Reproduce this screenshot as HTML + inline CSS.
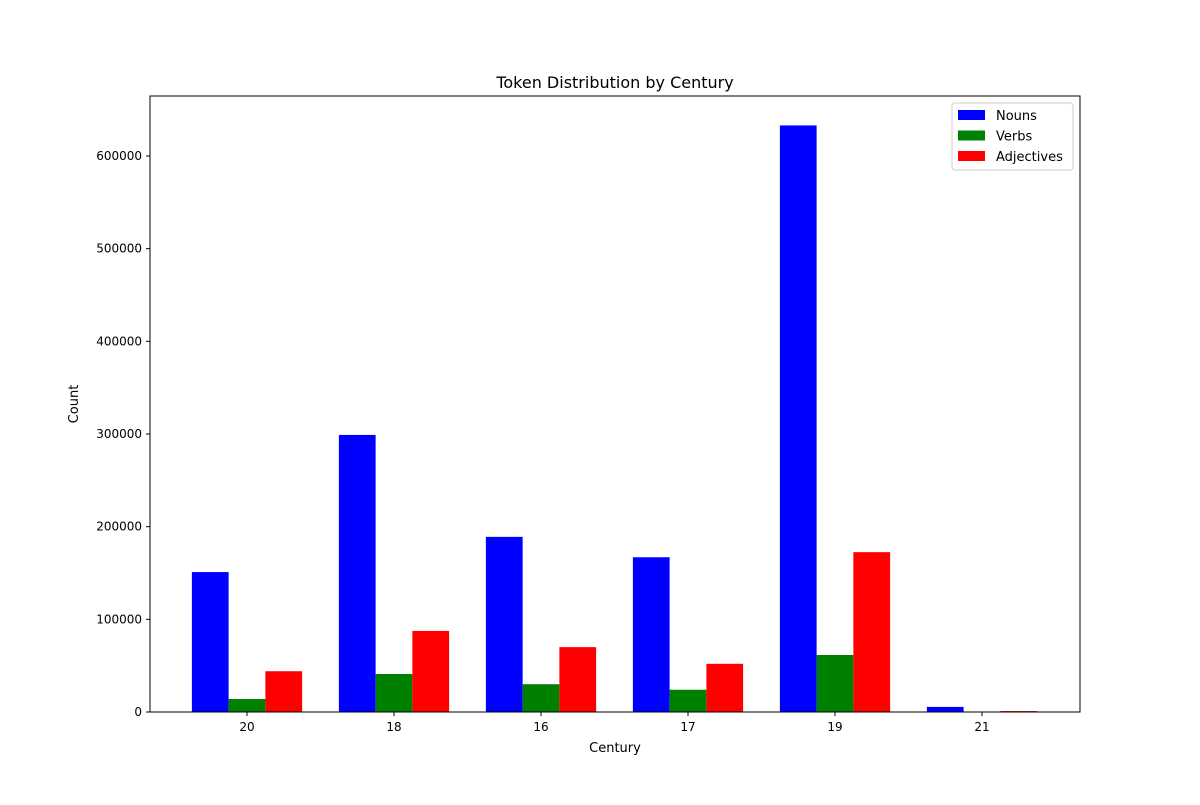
<!DOCTYPE html>
<html><head><meta charset="utf-8"><style>
html,body{margin:0;padding:0;background:#fff;}
svg text{font-family:"DejaVu Sans","Liberation Sans",sans-serif;}
</style></head><body>
<svg id="chart" width="1200" height="800" xmlns="http://www.w3.org/2000/svg">
<rect width="1200" height="800" fill="#fff"/>
<text x="615" y="88" font-size="16" text-anchor="middle">Token Distribution by Century</text>
<g id="bars"></g>
<g id="axes"></g>
<text x="615" y="752" font-size="13" text-anchor="middle">Century</text>
<text x="78" y="404" font-size="13" text-anchor="middle" transform="rotate(-90 78 404)">Count</text>
</svg>
<script>
const categories = ["20","18","16","17","19","21"];
const nouns = [151000,299000,189000,167000,633000,5500];
const verbs = [14000,41000,30000,24000,61500,500];
const adjectives = [44000,87500,70000,52000,172500,1000];
const yTicks = [0,100000,200000,300000,400000,500000,600000];
const seriesNames = ["Nouns","Verbs","Adjectives"];
const seriesColors = ["#0000ff","#008000","#ff0000"];

const NS="http://www.w3.org/2000/svg";
const L=150,R=1080,T=96,B=712,yMax=664750;
const step=(R-L)/(categories.length-0.5+0.5+0.33);
const x0=247, gap=147, bw=36.75;
function xc(i){return x0+i*gap;}
function y(v){return B-(v/yMax)*(B-T);}
function mk(tag,attrs,parent){const e=document.createElementNS(NS,tag);for(const k in attrs)e.setAttribute(k,attrs[k]);parent.appendChild(e);return e;}
const bars=document.getElementById('bars'), axes=document.getElementById('axes');
const all=[nouns,verbs,adjectives];
all.forEach((arr,s)=>{arr.forEach((v,i)=>{
  const cx=xc(i)+(s-1)*bw;
  const r=mk('rect',{x:cx-bw/2,y:y(v),width:bw,height:B-y(v),fill:seriesColors[s]},bars);
  
  
});});
const frame=mk('rect',{x:L,y:T,width:R-L,height:B-T,fill:'none',stroke:'#000','stroke-width':1},axes);


yTicks.forEach(v=>{
  mk('line',{x1:L-4,x2:L,y1:y(v),y2:y(v),stroke:'#000'},axes);
  const t=mk('text',{x:L-8,y:y(v)+4,'font-size':12,'text-anchor':'end'},axes);
  t.textContent=v;
  
  
});
categories.forEach((c,i)=>{
  mk('line',{x1:xc(i),x2:xc(i),y1:B,y2:B+4,stroke:'#000'},axes);
  const t=mk('text',{x:xc(i),y:B+19,'font-size':12,'text-anchor':'middle'},axes);
  t.textContent=c;
  
  
});
const lg=mk('g',{},axes);


mk('rect',{x:952,y:103,width:121,height:67,fill:'#fff',stroke:'#ccc',rx:3},lg);
seriesNames.forEach((n,s)=>{
  const yy=115+s*20.5;
  mk('rect',{x:958,y:yy-5,width:27,height:10,fill:seriesColors[s]},lg);
  const t=mk('text',{x:996,y:yy+5,'font-size':13},lg);
  t.textContent=n;
  
  
});
</script>
</body></html>
